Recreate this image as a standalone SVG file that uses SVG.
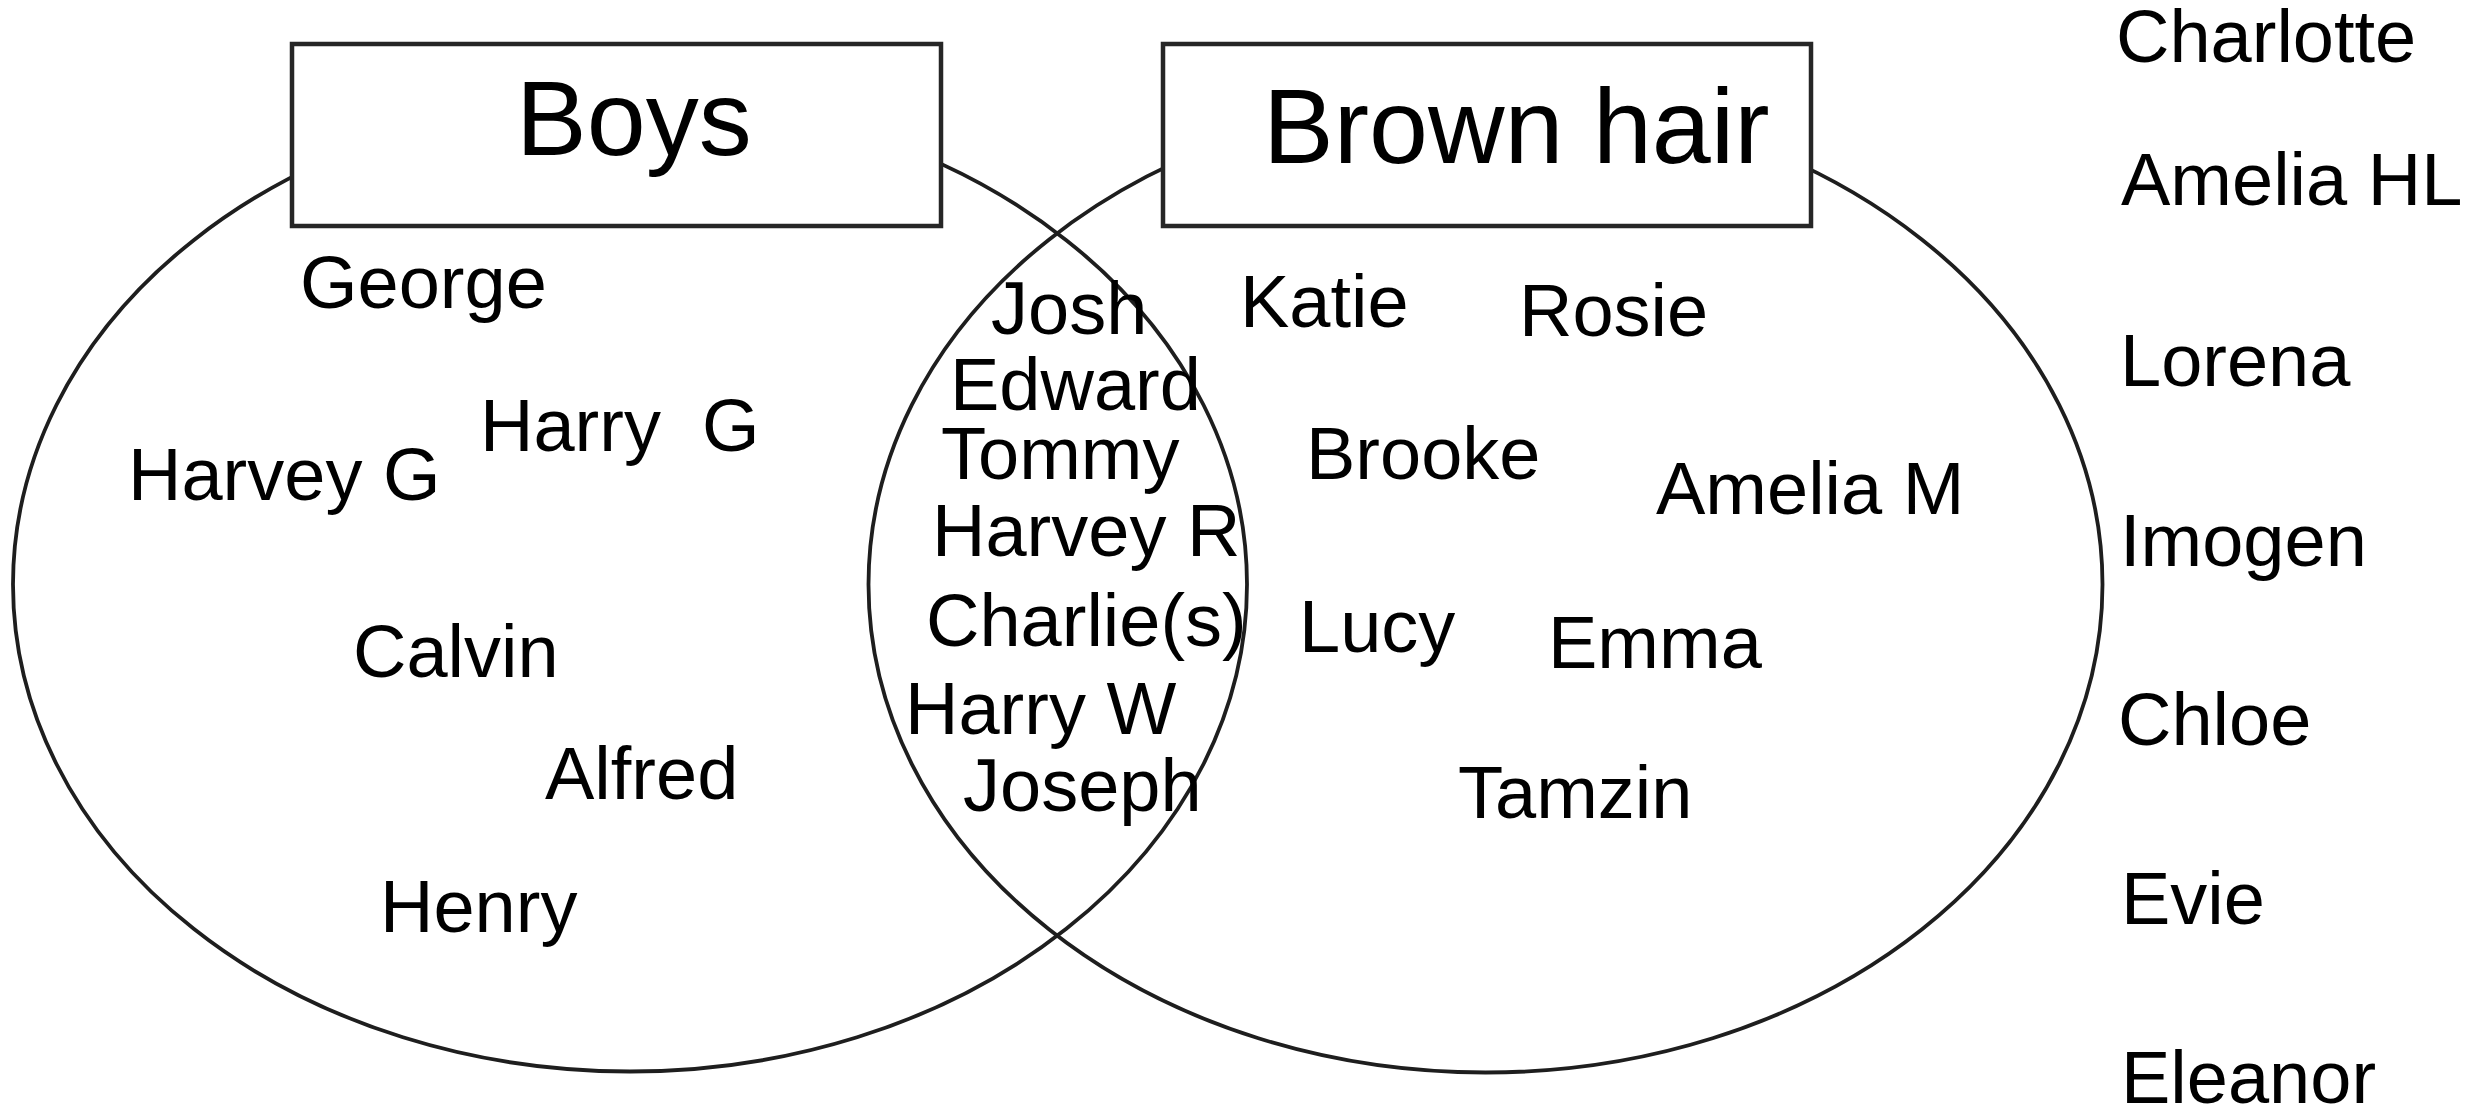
<svg xmlns="http://www.w3.org/2000/svg" width="2479" height="1109" viewBox="0 0 2479 1109">
<style>
.set{fill:none;stroke:#1e1e1e;stroke-width:3.8}
.box{fill:#ffffff;stroke:#262626;stroke-width:4.5}
.head{font-family:"Liberation Sans",Arial,sans-serif;font-size:106px;fill:#000}
.nm{font-family:"Liberation Sans",Arial,sans-serif;font-size:74px;fill:#000;white-space:pre}
</style>
<rect width="2479" height="1109" fill="#ffffff"/>
<g id="sets">
<ellipse id="boys-set" class="set" cx="630" cy="584.5" rx="617" ry="487"/>
<ellipse id="brown-set" class="set" cx="1485.5" cy="584.5" rx="617" ry="488"/>
</g>
<g id="connectors"></g>
<g id="boys-label">
<rect class="box" x="292" y="44" width="649" height="182"/>
<text class="head" x="516" y="155">Boys</text>
</g>
<g id="brown-label">
<rect class="box" x="1163" y="44" width="648" height="182"/>
<text class="head" x="1263" y="163">Brown hair</text>
</g>
<g id="boys-only">
<text class="nm" x="300" y="308">George</text>
<text class="nm" x="480" y="451" xml:space="preserve">Harry  G</text>
<text class="nm" x="128" y="500">Harvey G</text>
<text class="nm" x="353" y="677">Calvin</text>
<text class="nm" x="545" y="799">Alfred</text>
<text class="nm" x="380" y="932">Henry</text>
</g>
<g id="both">
<text class="nm" x="991" y="334">Josh</text>
<text class="nm" x="950" y="410">Edward</text>
<text class="nm" x="941" y="479">Tommy</text>
<text class="nm" x="932" y="556">Harvey R</text>
<text class="nm" x="926" y="646">Charlie(s)</text>
<text class="nm" x="905" y="734">Harry W</text>
<text class="nm" x="963" y="811">Joseph</text>
</g>
<g id="brown-only">
<text class="nm" x="1240" y="327">Katie</text>
<text class="nm" x="1519" y="336">Rosie</text>
<text class="nm" x="1306" y="479">Brooke</text>
<text class="nm" x="1656" y="514">Amelia M</text>
<text class="nm" x="1299" y="652">Lucy</text>
<text class="nm" x="1548" y="668">Emma</text>
<text class="nm" x="1458" y="818">Tamzin</text>
</g>
<g id="neither">
<text class="nm" x="2116" y="62">Charlotte</text>
<text class="nm" x="2121" y="205">Amelia HL</text>
<text class="nm" x="2120" y="386">Lorena</text>
<text class="nm" x="2120" y="566">Imogen</text>
<text class="nm" x="2118" y="745">Chloe</text>
<text class="nm" x="2121" y="924">Evie</text>
<text class="nm" x="2121" y="1103">Eleanor</text>
</g>
</svg>
